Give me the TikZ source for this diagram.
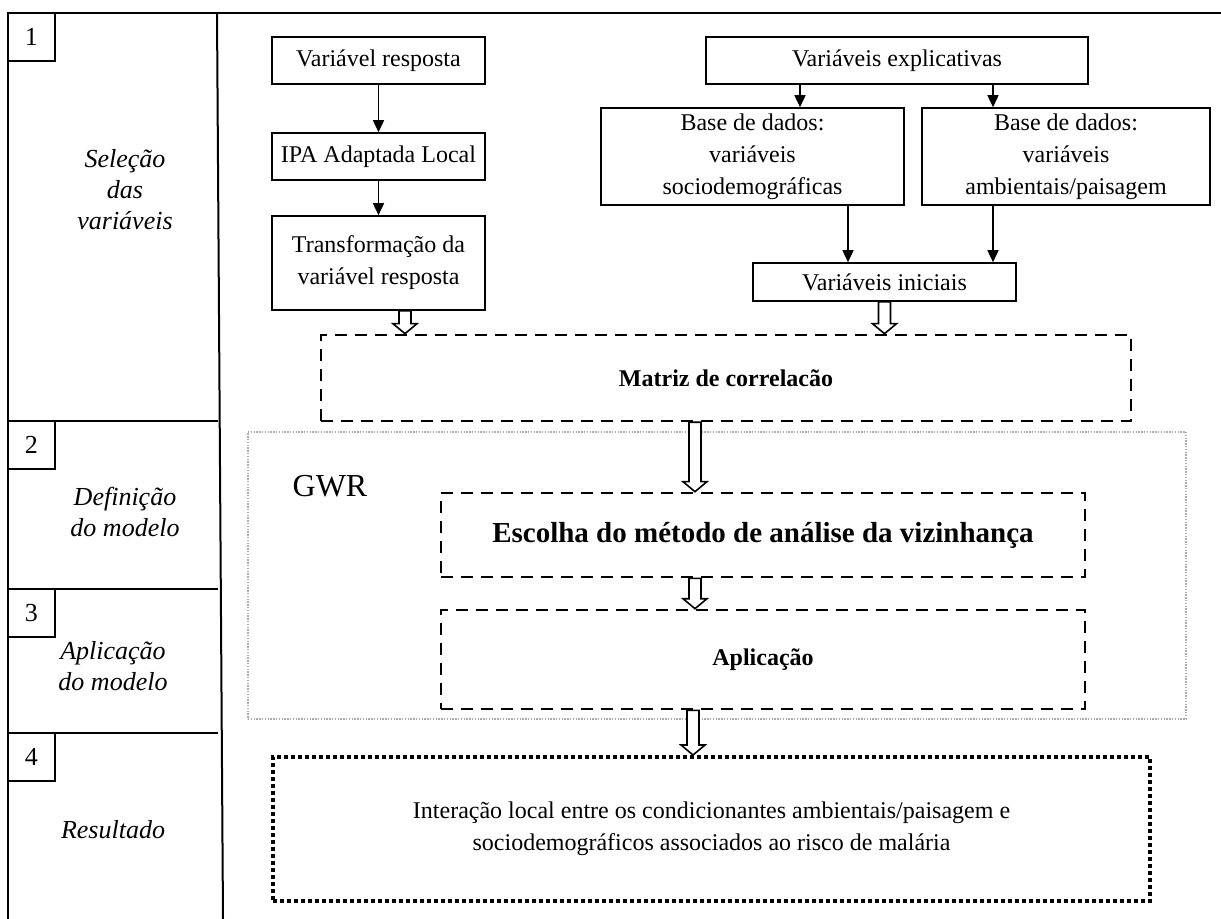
\documentclass[tikz,border=0pt]{standalone}
\usepackage{fontspec}
\setmainfont{Liberation Serif}
\usepackage{xcolor}
\usetikzlibrary{arrows.meta,calc}

\tikzset{
  txt/.style={font=\fontsize{12}{16}\selectfont},
  box/.style={txt, draw, line width=0.8pt, align=center, inner sep=0pt},
  dashbox/.style={box, line width=1.3pt, dash pattern=on 6pt off 4pt},
  dotbox/.style={box, line width=2pt, dash pattern=on 2pt off 1.5pt},
  gwrbox/.style={draw=gray!65, line width=0.8pt, dash pattern=on 0.7pt off 0.7pt, inner sep=0pt},
  numbox/.style={box, font=\fontsize{13}{15}\selectfont, minimum width=23.5pt, minimum height=24pt},
  stage/.style={font=\fontsize{13}{15.5}\selectfont\itshape, align=center},
  arr/.style={line width=0.8pt, -{Triangle[length=6pt,width=5.5pt]},
    to path={(\tikztostart) -- (\tikztostart |- \tikztotarget)}},
  fat/.style={line width=0.8pt, fill=white,
    to path={let \p1=(\tikztostart), \p2=(\tikztotarget) in
      (\x1-3pt,\y1) -- (\x1-3pt,\y2+5pt) -- (\x1-6pt,\y2+5pt) -- (\x1,\y2)
      -- (\x1+6pt,\y2+5pt) -- (\x1+3pt,\y2+5pt) -- (\x1+3pt,\y1) -- cycle}}
}

\begin{document}
\begin{tikzpicture}[x=0.5pt, y=-0.5pt]
  \useasboundingbox (0,0) rectangle (1221,919);

  % frame and stage column
  \draw[line width=1pt] (1221,13) -- (8,13) -- (8,919);
  \draw[line width=1pt] (217,13) -- (223,919);
  \foreach \yy in {421,589,733}
    \draw[line width=1pt] (8,\yy) -- (218,\yy);

  \node[numbox] (n1) at (31.5,37) {1};
  \node[numbox] (n2) at (31.5,445) {2};
  \node[numbox] (n3) at (31.5,613) {3};
  \node[numbox] (n4) at (31.5,757) {4};

  \node[stage] (s1) at (125,190) {Seleção\\das\\variáveis};
  \node[stage] (s2) at (125,512) {Definição\\do modelo};
  \node[stage] (s3) at (113,666) {Aplicação\\do modelo};
  \node[stage] (s4) at (113,830) {Resultado};

  % response variable
  \node[box, minimum width=106.5pt, minimum height=23.5pt] (vresp) at (378.5,60.5) {Variável resposta};
  \node[box, minimum width=106.5pt, minimum height=23.5pt] (ipa) at (378.5,156.5) {IPA Adaptada Local};
  \node[box, minimum width=106.5pt, minimum height=47pt] (transf) at (378.5,263) {Transformação da\\variável resposta};

  % explanatory variables
  \node[box, minimum width=191pt, minimum height=23.5pt] (vexpl) at (897,60.5) {Variáveis explicativas};
  \node[box, minimum width=151.5pt, minimum height=48.5pt] (bsocio) at (752.5,156.5) {Base de dados:\\variáveis\\sociodemográficas};
  \node[box, minimum width=144pt, minimum height=48.5pt] (bamb) at (1066,156.5) {Base de dados:\\variáveis\\ambientais/paisagem};
  \node[box, minimum width=131.5pt, minimum height=19pt] (vinic) at (884.5,282) {Variáveis iniciais};

  \node[dashbox, minimum width=405pt, minimum height=43pt] (matriz) at (726,378) {\bfseries Matriz de correlacão};

  % GWR block
  \node[gwrbox, minimum width=469pt, minimum height=143.5pt] (gwr) at (717,575.5) {};
  \node[font=\fontsize{16}{18}\selectfont] (gwrlab) at (330,486) {GWR};
  \node[dashbox, font=\fontsize{14.5}{16}\selectfont\bfseries, minimum width=322pt, minimum height=42pt] (escolha) at (763,535) {Escolha do método de análise da vizinhança};
  \node[dashbox, minimum width=322pt, minimum height=49.5pt] (aplic) at (763,659.5) {\bfseries Aplicação};

  \node[dotbox, minimum width=438.5pt, minimum height=72pt] (result) at (711.5,829)
    {Interação local entre os condicionantes ambientais/paisagem e\\sociodemográficos associados ao risco de malária};

  % thin arrows
  \draw[arr] (vresp.south) to (ipa.north);
  \draw[arr] (ipa.south) to (transf.north);
  \draw[arr] ([xshift=-48.5pt]vexpl.south) to (bsocio.north);
  \draw[arr] ([xshift=48pt]vexpl.south) to (bamb.north);
  \draw[arr] ([xshift=47.75pt]bsocio.south) to (vinic.north);
  \draw[arr] ([xshift=-36.5pt]bamb.south) to (vinic.north);

  % hollow arrows
  \draw[fat] ([xshift=13.25pt]transf.south) to (matriz.north);
  \draw[fat] (vinic.south) to (matriz.north);
  \draw[fat] ([xshift=-15.5pt]matriz.south) to (escolha.north);
  \draw[fat] ([xshift=-34pt]escolha.south) to (aplic.north);
  \draw[fat] ([xshift=-35pt]aplic.south) to (result.north);
\end{tikzpicture}
\end{document}
